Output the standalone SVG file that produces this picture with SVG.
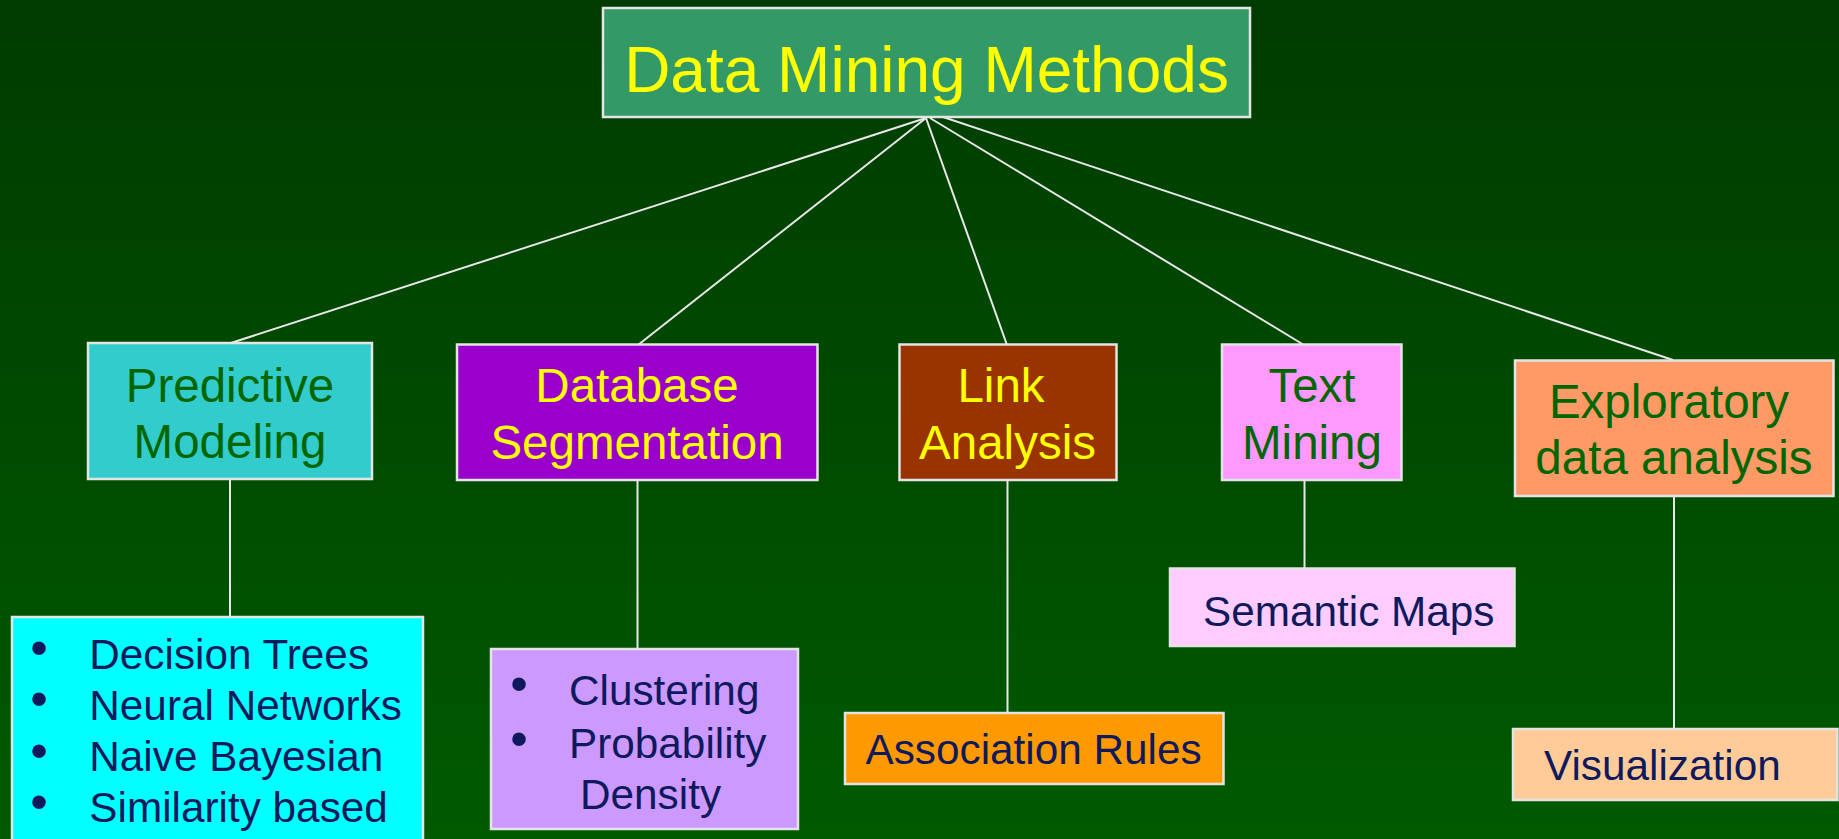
<svg xmlns="http://www.w3.org/2000/svg" width="1839" height="839" viewBox="0 0 1839 839">
<defs>
<linearGradient id="bg" x1="0" y1="0" x2="0" y2="1">
<stop offset="0" stop-color="#003b00"/>
<stop offset="1" stop-color="#005a00"/>
</linearGradient>
<style>
.box{stroke:#e4e4e4;stroke-width:2.5}
.t{font-family:"Liberation Sans",Arial,sans-serif}
.title{font-size:64px;fill:#ffff00}
.nt{font-size:47.5px;text-anchor:middle}
.g{fill:#006600}
.y{fill:#ffff00}
.sub{font-size:42.3px;fill:#0f1a5c}
.bul{font-size:50px;fill:#0f1a5c;text-anchor:middle}
.conn line{stroke:#e8e8e8;stroke-width:2}
</style>
</defs>
<rect width="1839" height="839" fill="url(#bg)"/>
<g class="conn" id="connectors">
<line x1="926" y1="118" x2="231" y2="343"/>
<line x1="926" y1="118" x2="638" y2="345"/>
<line x1="926" y1="118" x2="1007" y2="345"/>
<line x1="930" y1="118" x2="1304" y2="345"/>
<line x1="943" y1="117" x2="1673" y2="360"/>
<line x1="230" y1="479" x2="230" y2="617"/>
<line x1="637.5" y1="480" x2="637.5" y2="649"/>
<line x1="1007.5" y1="480" x2="1007.5" y2="713"/>
<line x1="1304.5" y1="480" x2="1304.5" y2="568.5"/>
<line x1="1674" y1="496" x2="1674" y2="729"/>
</g>
<g id="root">
<rect class="box" x="603" y="8" width="647" height="109" fill="#339966"/>
<text class="t title" x="926.5" y="91.5" text-anchor="middle">Data Mining Methods</text>
</g>
<g id="predictive">
<rect class="box" x="88" y="343" width="284" height="136" fill="#33cccc"/>
<text class="t nt g" x="230" y="401.5">Predictive</text>
<text class="t nt g" x="230" y="458">Modeling</text>
</g>
<g id="segmentation">
<rect class="box" x="457" y="344.5" width="360.5" height="135.5" fill="#9900cc"/>
<text class="t nt y" x="637" y="401.5">Database</text>
<text class="t nt y" x="637" y="459">Segmentation</text>
</g>
<g id="link">
<rect class="box" x="899.5" y="344.5" width="217" height="135.5" fill="#993300"/>
<text class="t nt y" x="1001" y="401.5">Link</text>
<text class="t nt y" x="1007.5" y="459">Analysis</text>
</g>
<g id="textmining">
<rect class="box" x="1222" y="344.5" width="179.5" height="135.5" fill="#ff99ff"/>
<text class="t nt g" x="1312" y="401.5">Text</text>
<text class="t nt g" x="1312" y="459">Mining</text>
</g>
<g id="exploratory">
<rect class="box" x="1515" y="360.5" width="318.5" height="135.5" fill="#ff9966"/>
<text class="t nt g" x="1669" y="418">Exploratory</text>
<text class="t nt g" x="1674" y="474">data analysis</text>
</g>
<g id="predictive-items">
<rect class="box" x="12" y="617" width="411" height="240" fill="#00ffff"/>
<text class="t bul" x="39" y="665">•</text>
<text class="t bul" x="39" y="716">•</text>
<text class="t bul" x="39" y="767.5">•</text>
<text class="t bul" x="39" y="818.5">•</text>
<text class="t sub" x="89.3" y="669">Decision Trees</text>
<text class="t sub" x="89.3" y="719.5">Neural Networks</text>
<text class="t sub" x="89.3" y="771">Naive Bayesian</text>
<text class="t sub" x="89.3" y="822">Similarity based</text>
</g>
<g id="segmentation-items">
<rect class="box" x="491" y="649" width="307" height="180" fill="#cc99ff"/>
<text class="t bul" x="519" y="701">•</text>
<text class="t bul" x="519" y="755.5">•</text>
<text class="t sub" x="569" y="705">Clustering</text>
<text class="t sub" x="569" y="758">Probability</text>
<text class="t sub" x="580" y="808.5">Density</text>
</g>
<g id="association">
<rect class="box" x="845" y="713" width="378.5" height="71" fill="#ff9900"/>
<text class="t sub" x="865.5" y="764">Association Rules</text>
</g>
<g id="semantic">
<rect class="box" x="1170" y="568.5" width="344.5" height="77.5" fill="#ffccff"/>
<text class="t sub" x="1203" y="625.7">Semantic Maps</text>
</g>
<g id="visualization">
<rect class="box" x="1513" y="729" width="324.5" height="71" fill="#ffcc99"/>
<text class="t sub" x="1544" y="780">Visualization</text>
</g>
</svg>
